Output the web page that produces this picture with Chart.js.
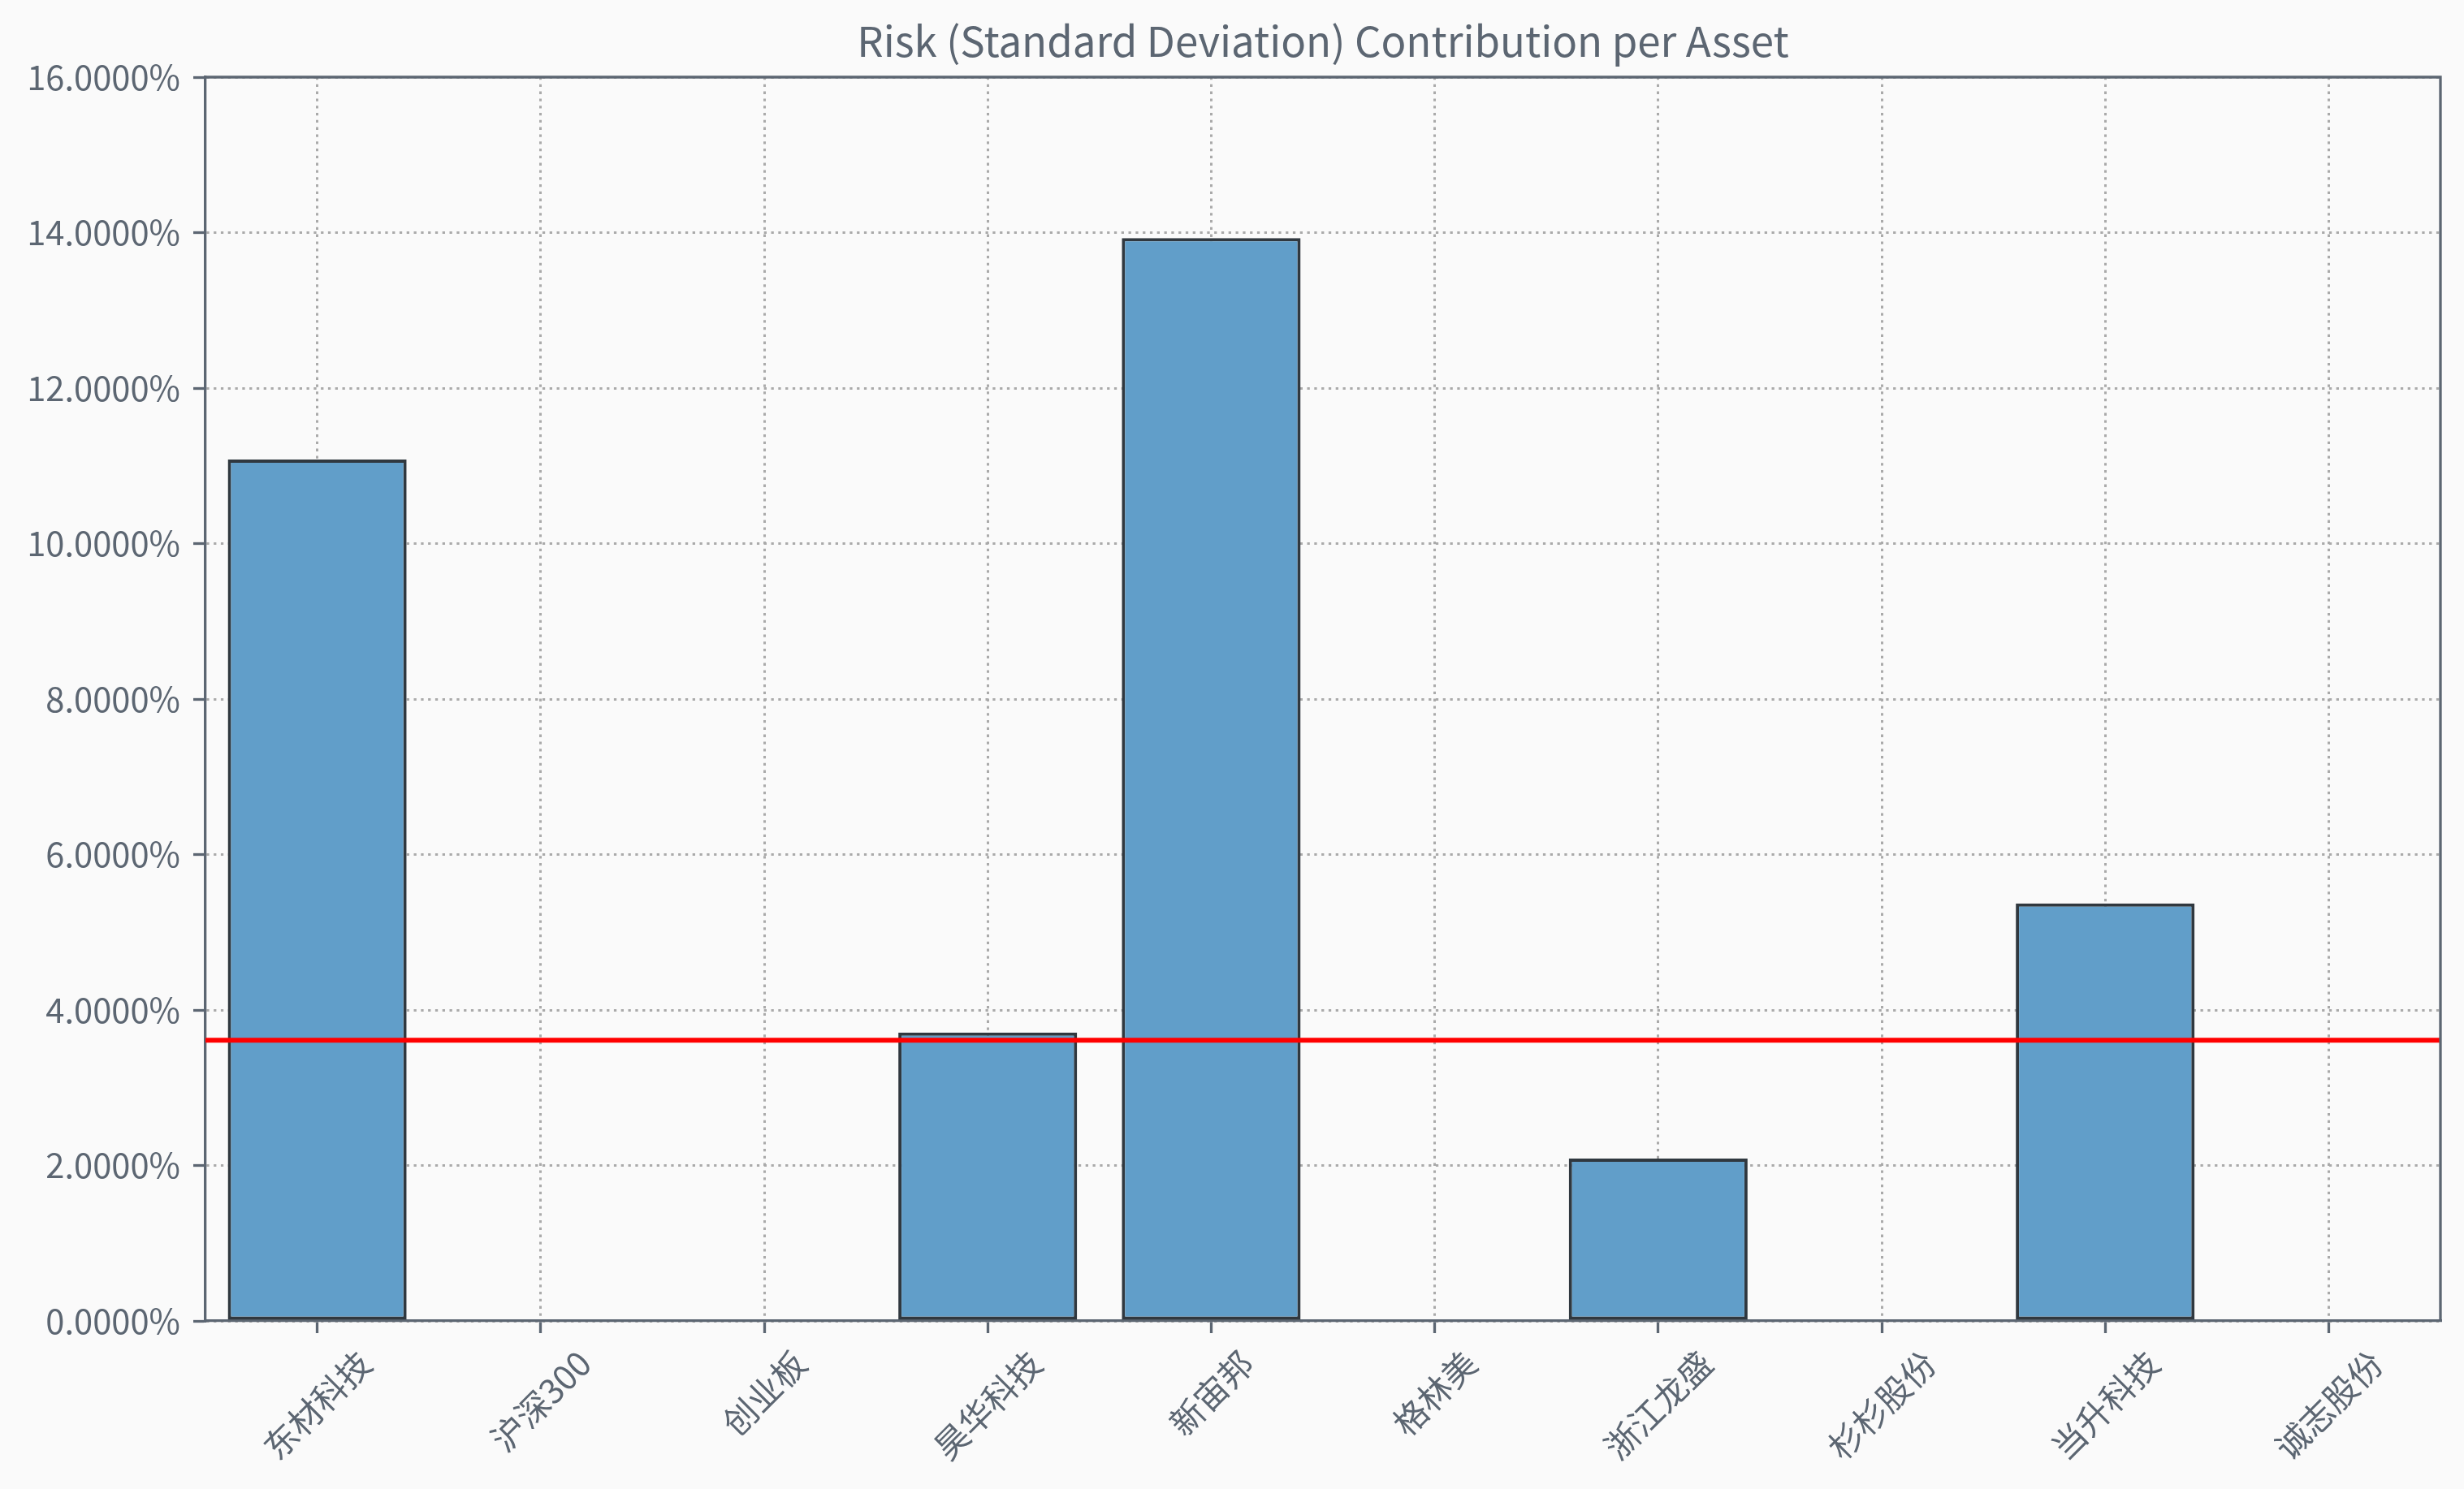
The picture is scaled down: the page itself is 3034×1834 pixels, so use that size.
<!DOCTYPE html>
<html>
<head>
<meta charset="utf-8">
<script src="https://cdn.jsdelivr.net/npm/chart.js@4"></script>
<style>
  html, body { margin: 0; padding: 0; background: #fafafa; }
  #wrap { width: 3034px; height: 1834px; }
</style>
</head>
<body>
<div id="wrap"><canvas id="chart" width="3034" height="1834"></canvas></div>
<script>
// asset names along the x axis
const assets = ["东材科技", "沪深300", "创业板", "昊华科技", "新宙邦", "格林美", "浙江龙盛", "杉杉股份", "当升科技", "诚志股份"];
// risk contribution per asset, in percent
const riskContribution = [11.08, 0, 0, 3.71, 13.93, 0, 2.09, 0, 5.37, 0];
// red reference line (average contribution), in percent
const averageLine = [3.61];
// y axis ticks, in percent
const yTicks = [0, 2, 4, 6, 8, 10, 12, 14, 16];

const chartTitle = "Risk (Standard Deviation) Contribution per Asset";
const fontFamily = "'Noto Sans CJK SC', 'Noto Sans', sans-serif";
const textColor = "#5c6672";
const spineColor = "#5c6672";
const gridColor = "#aaaaaa";

// red line, top/right spines, title and rotated x labels
const framePlugin = {
  id: "frame",
  afterDraw(chart) {
    const { ctx, chartArea, scales } = chart;
    ctx.save();
    // red average line
    const yy = scales.y.getPixelForValue(averageLine[0]);
    ctx.strokeStyle = "#ff0000";
    ctx.lineWidth = 6;
    ctx.beginPath();
    ctx.moveTo(chartArea.left, yy);
    ctx.lineTo(chartArea.right, yy);
    ctx.stroke();

    // top and right spines
    ctx.strokeStyle = spineColor;
    ctx.lineWidth = 3.3;
    ctx.beginPath();
    ctx.moveTo(chartArea.left, chartArea.top);
    ctx.lineTo(chartArea.right, chartArea.top);
    ctx.lineTo(chartArea.right, chartArea.bottom);
    ctx.stroke();

    // title
    ctx.fillStyle = textColor;
    ctx.font = "51px " + fontFamily;
    ctx.textAlign = "center";
    ctx.textBaseline = "alphabetic";
    ctx.fillText(chartTitle, (chartArea.left + chartArea.right) / 2, 70);

    // rotated x labels, centred under each tick
    ctx.font = "41.7px " + fontFamily;
    const top = chartArea.bottom + 15 + 15;
    const h = 41.7;
    assets.forEach((name, i) => {
      const x = scales.x.getPixelForTick(i);
      const w = ctx.measureText(name).width;
      const boxH = (w + h) * Math.SQRT1_2;
      ctx.save();
      ctx.translate(x, top + boxH / 2);
      ctx.rotate(-Math.PI / 4);
      ctx.textAlign = "center";
      ctx.textBaseline = "middle";
      ctx.fillText(name, 0, 0);
      ctx.restore();
    });
    ctx.restore();
  }
};

const bgPlugin = {
  id: "bg",
  beforeDraw(chart) {
    const { ctx, width, height } = chart;
    ctx.save();
    ctx.fillStyle = "#fafafa";
    ctx.fillRect(0, 0, width, height);
    ctx.restore();
  }
};

new Chart(document.getElementById("chart"), {
  type: "bar",
  data: {
    labels: assets,
    datasets: [{
      data: riskContribution,
      backgroundColor: "#619ec9",
      borderColor: "#30383f",
      borderWidth: 4,
      borderSkipped: false,
      barPercentage: 0.8,
      categoryPercentage: 1.0,
    }],
  },
  options: {
    responsive: false,
    animation: false,
    devicePixelRatio: 1,
    layout: { padding: { top: 95, right: 29, bottom: 0, left: 0 } },
    plugins: {
      legend: { display: false },
      title: { display: false },
      tooltip: { enabled: false },
    },
    scales: {
      x: {
        offset: true,
        z: 1,
        grid: {
          offset: false,
          color: gridColor,
          lineWidth: 3,
          drawTicks: true,
          tickLength: 15,
          tickColor: spineColor,
          tickWidth: 3.3,
          tickBorderDash: [],
        },
        border: { display: true, color: spineColor, width: 3.3, dash: [3.3, 5.5] },
        ticks: { display: false },
        afterFit(scale) { scale.height = 207; },
      },
      y: {
        min: 0,
        max: 16,
        z: 1,
        afterBuildTicks(scale) { scale.ticks = yTicks.map(v => ({ value: v })); },
        grid: {
          color: gridColor,
          lineWidth: 3,
          drawTicks: true,
          tickLength: 15,
          tickColor: spineColor,
          tickWidth: 3.3,
          tickBorderDash: [],
        },
        border: { display: true, color: spineColor, width: 3.3, dash: [3.3, 5.5] },
        ticks: {
          padding: 16,
          color: textColor,
          font: { family: fontFamily, size: 41.7 },
          callback: (v) => v.toFixed(4) + "%",
        },
        afterFit(scale) { scale.width = 253; },
      },
    },
  },
  plugins: [bgPlugin, framePlugin],
});
</script>
</body>
</html>
